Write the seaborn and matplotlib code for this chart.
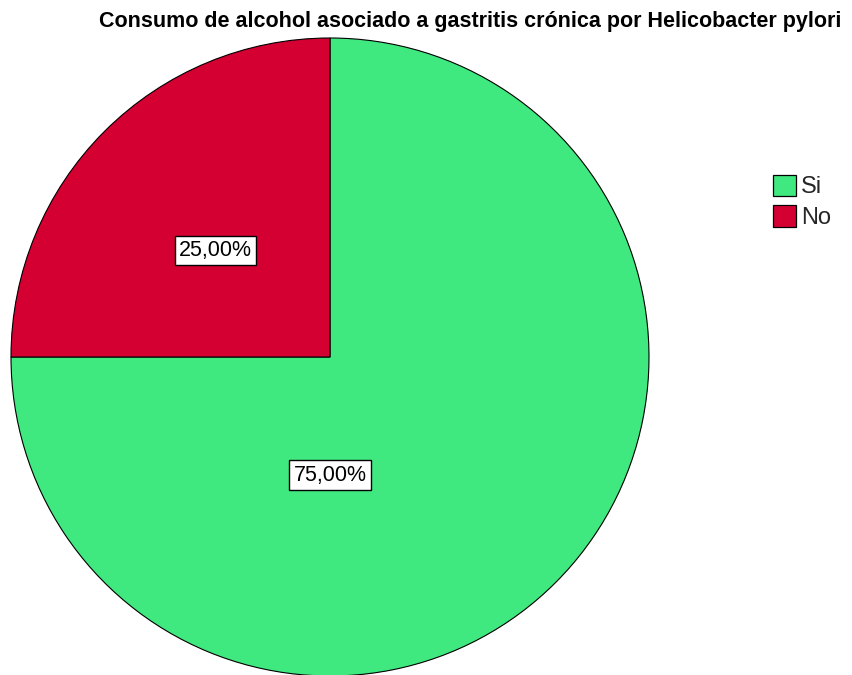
import matplotlib

matplotlib.use("Agg")
import matplotlib.pyplot as plt
import numpy as np
import seaborn as sns
from matplotlib.patches import Patch

categories = ["Si", "No"]
percentages = [75.0, 25.0]
colors = ["#40E980", "#D50032"]
title = "Consumo de alcohol asociado a gastritis crónica por Helicobacter pylori"

# where the label boxes sit (angle in degrees, fraction of radius)
label_angles = [-90, 137]
label_dist = [0.37, 0.49]

sns.set_theme(style="white")
plt.rcParams["font.family"] = ["Liberation Sans", "DejaVu Sans"]

fig = plt.figure(figsize=(8.53, 6.75), dpi=100)
cx, cy, r = 330, 357, 319
ax = fig.add_axes([(cx - r) / 853, (675 - cy - r) / 675, 2 * r / 853, 2 * r / 675])

wedges, _ = ax.pie(
    percentages,
    colors=colors,
    startangle=90,
    counterclock=False,
    radius=1.0,
    wedgeprops={"edgecolor": "black", "linewidth": 0.8},
)
ax.set_xlim(-1, 1)
ax.set_ylim(-1, 1)
ax.set_aspect("auto")

for pct, a, d in zip(percentages, label_angles, label_dist):
    ang = np.deg2rad(a)
    ax.text(
        d * np.cos(ang), d * np.sin(ang),
        f"{pct:.2f}%".replace(".", ","),
        ha="center", va="center", fontsize=15.5, color="black",
        bbox={"boxstyle": "square,pad=0.2", "facecolor": "white", "edgecolor": "black", "linewidth": 1.0},
    )

fig.text(470.5 / 853, 1 - 22 / 675, title, ha="center", va="center",
         fontsize=15.5, fontweight="bold", color="black")

handles = [Patch(facecolor=c, edgecolor="black", linewidth=0.9) for c in colors]
fig.legend(handles, categories, loc="upper left", bbox_to_anchor=(768 / 853, 1 - 170 / 675),
           frameon=False, fontsize=17, handlelength=1.0, handleheight=1.0,
           handletextpad=0.2, labelspacing=0.3, borderaxespad=0, borderpad=0.2)

fig.savefig("out.png", dpi=100)
